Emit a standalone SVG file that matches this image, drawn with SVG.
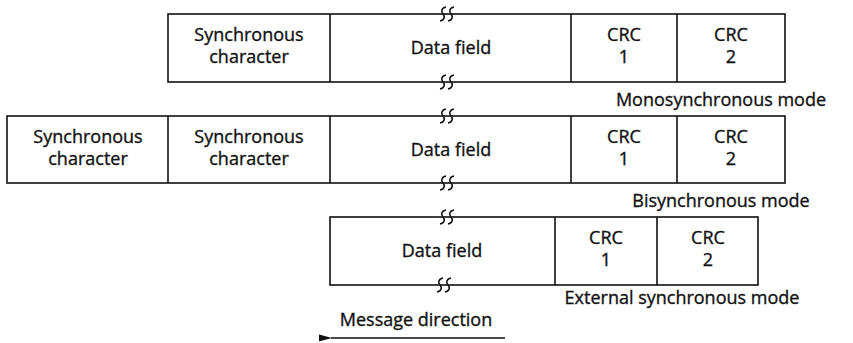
<svg xmlns="http://www.w3.org/2000/svg" width="853" height="343" viewBox="0 0 853 343">
<style>
.box{fill:#fff;stroke:#111;stroke-width:1.6}
.t{font-family:"Open Sans","Liberation Sans",sans-serif;font-size:18px;fill:#111;stroke:#111;stroke-width:0.35;text-anchor:middle}
.sq{fill:none;stroke:#111;stroke-width:1.6}
.ln{stroke:#111;stroke-width:1.6;fill:none}
</style>
<defs>
<g id="brk"><path class="sq" d="M3,-7 C-2,-6 -2,-2 0,0 C2,2 2,6 -3,7"/><path class="sq" d="M11,-7 C6,-6 6,-2 8,0 C10,2 10,6 5,7"/></g>
<marker id="ah" markerWidth="14" markerHeight="10" refX="1" refY="5" orient="auto" markerUnits="userSpaceOnUse"><path d="M13,1.5 L0,5 L13,8.5 Z" fill="#111"/></marker>
</defs>

<g id="mono">
<rect class="box" x="168" y="14" width="617" height="68"/>
<line class="ln" x1="330" y1="14" x2="330" y2="82"/>
<line class="ln" x1="571" y1="14" x2="571" y2="82"/>
<line class="ln" x1="677" y1="14" x2="677" y2="82"/>
<use href="#brk" x="443" y="14"/><use href="#brk" x="443" y="82"/>
<text class="t" x="249" y="41">Synchronous</text>
<text class="t" x="249" y="63">character</text>
<text class="t" x="451" y="54">Data field</text>
<text class="t" x="624" y="41">CRC</text><text class="t" x="624" y="63">1</text>
<text class="t" x="731" y="41">CRC</text><text class="t" x="731" y="63">2</text>
<text class="t" x="721" y="106">Monosynchronous mode</text>
</g>

<g id="bi">
<rect class="box" x="7" y="116" width="778" height="67"/>
<line class="ln" x1="168" y1="116" x2="168" y2="183"/>
<line class="ln" x1="330" y1="116" x2="330" y2="183"/>
<line class="ln" x1="571" y1="116" x2="571" y2="183"/>
<line class="ln" x1="677" y1="116" x2="677" y2="183"/>
<use href="#brk" x="443" y="116"/><use href="#brk" x="443" y="183"/>
<text class="t" x="88" y="143">Synchronous</text>
<text class="t" x="88" y="165">character</text>
<text class="t" x="249" y="143">Synchronous</text>
<text class="t" x="249" y="165">character</text>
<text class="t" x="451" y="156">Data field</text>
<text class="t" x="624" y="143">CRC</text><text class="t" x="624" y="165">1</text>
<text class="t" x="731" y="143">CRC</text><text class="t" x="731" y="165">2</text>
<text class="t" x="721" y="207">Bisynchronous mode</text>
</g>

<g id="ext">
<rect class="box" x="330" y="217" width="428" height="68"/>
<line class="ln" x1="555" y1="217" x2="555" y2="285"/>
<line class="ln" x1="657" y1="217" x2="657" y2="285"/>
<use href="#brk" x="443" y="217"/><use href="#brk" x="440" y="285"/>
<text class="t" x="442" y="257">Data field</text>
<text class="t" x="606" y="244">CRC</text><text class="t" x="606" y="266">1</text>
<text class="t" x="708" y="244">CRC</text><text class="t" x="708" y="266">2</text>
<text class="t" x="682" y="304">External synchronous mode</text>
</g>

<g id="connectors">
<text class="t" x="416" y="326">Message direction</text>
<line class="ln" x1="505" y1="338" x2="331" y2="338" marker-end="url(#ah)"/>
</g>
</svg>
